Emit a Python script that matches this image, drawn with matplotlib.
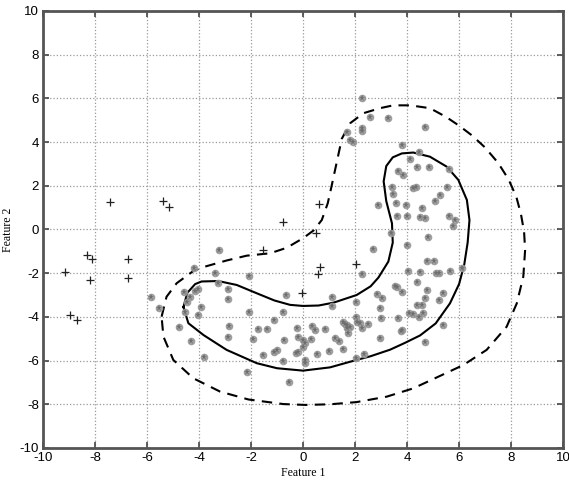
import numpy as np
import matplotlib
matplotlib.use("Agg")
import matplotlib.pyplot as plt

# class 1 (plus markers)
plus_x = [-7.42, -5.37, -5.14, -0.78, 0.63, 0.50, -8.32, -8.13, -6.72, -9.15,
          -8.19, -6.72, 0.65, 0.56, -1.55, -8.96, -8.70, 2.04, -0.03]
plus_y = [1.24, 1.30, 1.04, 0.34, 1.17, -0.17, -1.17, -1.35, -1.35, -1.93,
          -2.31, -2.20, -1.73, -2.05, -0.94, -3.91, -4.14, -1.58, -2.92]

# class 2 (grey star markers)
star_pts = [
    (-5.86, -3.08), (-5.53, -3.58), (-4.19, -1.75), (-3.22, -0.94), (-3.38, -1.98),
    (-2.06, -2.13), (-4.58, -2.85), (-4.15, -2.80), (-4.03, -2.74), (-4.35, -3.10),
    (-4.45, -3.30), (-3.26, -2.46), (-2.90, -2.74), (-2.90, -3.20), (-3.92, -3.56),
    (-4.03, -3.91), (-4.54, -3.76), (-2.06, -3.76), (-4.76, -4.45), (-2.83, -4.42),
    (-2.90, -4.90), (-4.31, -5.10), (-2.14, -6.51), (-3.81, -5.82), (-1.93, -5.03),
    (-1.74, -4.57), (-1.40, -4.57), (-1.12, -4.14), (-1.55, -5.74), (-1.12, -5.60),
    (-1.01, -5.50), (-0.65, -3.00), (1.10, -3.08), (1.10, -3.50), (-0.76, -3.78),
    (-0.25, -4.52), (0.33, -4.42), (0.46, -4.60), (0.85, -4.55), (1.55, -4.22),
    (1.68, -4.37), (1.62, -4.32), (1.68, -4.52), (1.81, -4.45), (1.74, -4.72),
    (-0.18, -4.90), (0.01, -5.06), (0.08, -5.21), (-0.01, -5.36), (-0.18, -5.60),
    (-0.73, -5.06), (0.31, -5.03), (1.23, -4.98), (1.40, -5.09), (-0.78, -6.00),
    (-0.27, -5.64), (0.08, -5.97), (0.08, -6.10), (0.53, -5.70), (1.01, -5.55),
    (1.53, -5.48), (-0.54, -6.99),
    (2.04, -3.30), (2.86, -2.95), (3.03, -3.15), (2.96, -3.61), (3.67, -4.07),
    (4.09, -3.84), (4.24, -3.88), (4.47, -3.99), (4.60, -3.84), (4.37, -3.46),
    (4.56, -3.46), (3.00, -4.07), (2.04, -3.99), (2.09, -4.22), (2.19, -4.29),
    (2.26, -4.52), (2.51, -4.33), (2.96, -4.98), (2.04, -5.90), (2.36, -5.70),
    (3.77, -4.65), (4.69, -5.13), (5.37, -4.37), (3.80, -4.60), (2.26, -2.04),
    (3.54, -2.59), (3.60, -2.62), (3.80, -2.85), (4.37, -2.39), (4.76, -2.77),
    (4.69, -3.15), (5.37, -2.92), (5.24, -3.23), (4.05, -1.88), (4.50, -1.93),
    (5.12, -1.98), (5.24, -1.98), (5.65, -1.88), (6.10, -1.78), (4.76, -1.43),
    (5.05, -1.43), (4.01, -0.71), (4.80, -0.33), (3.38, -0.15), (2.68, -0.89),
    (2.90, 1.12), (3.58, 1.20), (3.96, 1.10), (4.56, 1.00), (3.60, 0.62),
    (4.01, 0.60), (4.50, 0.59), (4.69, 0.51), (5.63, 0.62), (5.85, 0.43),
    (5.76, 0.16), (3.41, 1.93), (3.47, 1.62), (4.24, 1.89), (4.35, 1.93),
    (5.53, 1.93), (5.27, 1.58), (5.08, 1.32), (3.67, 2.69), (3.83, 2.49),
    (4.40, 2.87), (4.85, 2.84), (5.63, 2.75), (4.12, 3.21), (4.47, 3.56),
    (3.80, 3.87), (4.69, 4.70), (2.26, 6.00), (2.58, 5.16), (3.28, 5.09),
    (1.68, 4.48), (2.26, 4.63), (2.26, 4.52), (1.81, 4.10), (1.91, 4.02),
]
star_x = [p[0] for p in star_pts]
star_y = [p[1] for p in star_pts]

# inner decision boundary (solid)
inner_x = [-4.60, -4.45, -4.15, -3.90, -3.26, -2.55, -1.78, -1.10, -0.50, 0.00,
           0.60, 1.17, 2.06, 2.60, 2.90, 3.28, 3.45, 3.42, 3.20, 3.10, 3.20,
           3.45, 3.80, 4.24, 4.88, 5.53, 5.97, 6.30, 6.40, 6.33, 6.20, 6.00,
           5.65, 5.10, 4.50, 3.90, 3.35, 2.60, 2.06, 1.04, 0.00, -1.00, -1.78,
           -2.94, -3.83, -4.41, -4.60]
inner_y = [-3.55, -2.90, -2.50, -2.38, -2.36, -2.54, -2.92, -3.25, -3.45, -3.50,
           -3.48, -3.35, -3.00, -2.60, -2.20, -1.47, -0.60, 0.28, 1.30, 2.20, 2.90,
           3.30, 3.48, 3.52, 3.33, 2.87, 2.27, 1.35, 0.43, -0.60, -1.60, -2.50,
           -3.38, -4.30, -4.85, -5.20, -5.50, -5.80, -5.97, -6.31, -6.46, -6.35, -6.12,
           -5.51, -4.83, -4.29, -3.55]

# outer boundary (dashed)
outer_x = [-5.44, -5.25, -4.86, -4.22, -3.83, -2.94, -2.17, -1.27, -0.63, 0.00,
           0.40, 0.72, 0.95, 1.10, 1.30, 1.49, 1.81, 2.32, 2.96, 3.47, 4.12,
           4.88, 5.50, 6.00, 6.50, 7.00, 7.50, 7.90, 8.20, 8.38, 8.50, 8.54, 8.47,
           8.22, 7.83, 7.06, 6.17, 5.27, 4.24, 3.22, 2.06, 1.04, 0.10, -0.76,
           -2.10, -3.19, -4.22, -4.99, -5.37, -5.44]
outer_y = [-3.99, -3.08, -2.46, -1.90, -1.72, -1.42, -1.20, -1.09, -0.84, -0.40,
           -0.05, 0.43, 1.20, 2.00, 3.10, 4.15, 4.86, 5.32, 5.55, 5.68, 5.68,
           5.55, 5.15, 4.75, 4.30, 3.75, 3.05, 2.30, 1.50, 0.70, -0.10, -0.94, -2.16,
           -3.38, -4.45, -5.51, -6.20, -6.70, -7.27, -7.65, -7.90, -8.00, -8.03, -7.99,
           -7.78, -7.42, -6.81, -5.97, -4.90, -3.99]

ticks = np.arange(-10, 11, 2)

fig = plt.figure(figsize=(5.69, 4.84), dpi=100)
ax = fig.add_axes([0.0756, 0.0744, 0.914, 0.903])

ax.grid(True, linestyle=':', color='#999999', linewidth=0.9)
ax.set_axisbelow(True)

ax.plot(outer_x, outer_y, color='black', linestyle=(0, (5, 3.5)), linewidth=1.5)
ax.plot(inner_x, inner_y, color='black', linestyle='-', linewidth=1.5)

ax.plot(star_x, star_y, linestyle='none', marker='o', markersize=4.5,
        color='#9a9a9a', markeredgecolor='#9a9a9a', alpha=0.9)
ax.plot(star_x, star_y, linestyle='none', marker='*', markersize=5,
        color='#6e6e6e', markeredgewidth=0)
ax.plot(plus_x, plus_y, linestyle='none', marker='+', markersize=6,
        color='#222222', markeredgewidth=0.9)

ax.set_xlim(-10, 10)
ax.set_ylim(-10, 10)
ax.set_xticks(ticks)
ax.set_yticks(ticks)
ax.set_xticklabels([str(t) for t in ticks], family='Liberation Sans', fontsize=9.5)
ax.set_yticklabels([str(t) for t in ticks], family='Liberation Sans', fontsize=9.5)
ax.tick_params(direction='in', length=4, width=1.2, top=True, right=True,
               color='#444444', pad=3)
for s in ax.spines.values():
    s.set_color('#555555')
    s.set_linewidth(2)

ax.set_xlabel('Feature 1', family='Liberation Serif', fontsize=8.5, labelpad=2)
ax.set_ylabel('Feature 2', family='Liberation Serif', fontsize=8.5, labelpad=4)

fig.savefig('out.png', dpi=100)
